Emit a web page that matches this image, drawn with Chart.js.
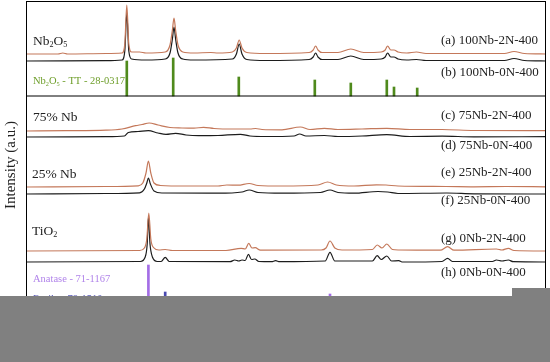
<!DOCTYPE html>
<html>
<head>
<meta charset="utf-8">
<script src="https://cdn.jsdelivr.net/npm/chart.js@4.4.0/dist/chart.umd.min.js"></script>
<style>
  body { margin: 0; background: #fff; }
  #wrap { position: relative; width: 550px; height: 362px; }
  canvas { display: block; }
  .mask { position: absolute; background: #808080; }
</style>
</head>
<body>
<div id="wrap">
  <canvas id="xrd" width="550" height="362"></canvas>
  <div class="mask" style="left:0;top:296px;width:550px;height:66px"></div>
  <div class="mask" style="left:512px;top:288px;width:38px;height:8px"></div>
</div>
<script>
// samples, top to bottom (2N = red, 0N = black)
const sampleNames = ['(a) 100Nb-2N-400', '(b) 100Nb-0N-400', '(c) 75Nb-2N-400', '(d) 75Nb-0N-400',
                     '(e) 25Nb-2N-400', '(f) 25Nb-0N-400', '(g) 0Nb-2N-400', '(h) 0Nb-0N-400'];
// vertical offset of each pattern (a.u.)
const baselines = [275, 268, 198, 192, 142, 135, 78, 67];
const panelSplit = 233; // line between Nb2O5 panel and the rest

// (a) 100Nb-2N-400
const thetaA = [10, 14, 14.6, 15.2, 20, 22.0, 22.35, 22.6, 22.85, 23.2, 24.2, 25, 27.4, 28.0, 28.3, 28.5, 28.7, 29.0, 29.6, 31,
                33.1, 34, 35.8, 36.3, 36.65, 37.0, 37.6, 40, 45.4, 45.9, 46.2, 46.5, 47.0, 49.0, 50.6, 52.2, 54.4, 54.9,
                55.2, 55.6, 56.0, 56.5, 57.6, 58.8, 60, 69.8, 71.0, 72.3, 75];
const intA = [0, 0, 1, 0, 0.5, 1, 10, 49, 10, 2, 2, 1, 2, 9, 24, 36, 24, 9, 2, 1,
              1.5, 1, 2, 6, 14, 6, 1.5, 0.5, 1.5, 4, 8, 4, 1.5, 1.5, 5, 1.5, 2, 4,
              8, 4, 4, 2, 1, 2, 0.5, 0.5, 2.5, 0.5, 0];
// (b) 100Nb-0N-400
const thetaB = [10, 20, 22.0, 22.35, 22.6, 22.85, 23.2, 25, 27.4, 28.0, 28.3, 28.5, 28.7, 29.0, 29.6, 31,
                35.8, 36.3, 36.65, 37.0, 37.6, 40, 45.4, 45.9, 46.2, 46.5, 47.0, 49.0, 50.6, 52.2, 54.4, 54.9,
                55.2, 55.6, 56.0, 56.5, 57.6, 58.8, 60, 69.8, 71.0, 72.3, 75];
const intB = [0, 0.3, 1, 10, 48, 10, 2, 1, 2, 8, 22, 34, 22, 8, 2, 1,
              2, 7, 17, 7, 1.5, 0.5, 1.5, 4, 8, 4, 1.5, 1.5, 5, 1.5, 2, 4,
              8, 4, 4, 2, 1, 1.5, 0.5, 0.5, 2.5, 0.5, 0];
// (c) 75Nb-2N-400
const thetaC = [10, 15, 20, 22, 23.7, 24.5, 25.4, 26.5, 28, 29.5, 31, 32.2, 33.5, 36, 38, 38.7, 39.5, 42, 44.3, 45.5,
                47.3, 49, 52, 55.1, 58, 62, 66, 75];
const intC = [0, 0.3, 0.8, 2, 5.3, 6.5, 8, 6, 3.5, 3, 2.8, 3.7, 2.5, 2, 2, 2.5, 1.5, 1.2, 4, 1.5,
              2.7, 1.5, 2, 2.7, 1.5, 1.5, 0.5, 0.3];
// (d) 75Nb-0N-400
const thetaD = [10, 20, 22.3, 22.8, 24, 25.3, 26.5, 27.5, 28.7, 30, 31.6, 34, 36.8, 38, 40, 43.5, 44.2, 45, 47.3, 49,
                52, 55.1, 58, 62, 66, 75];
const intD = [0, 0.3, 1, 4.5, 5.5, 6.3, 4, 2.7, 3.7, 2, 1.3, 1.5, 2.7, 1, 0.5, 1, 3, 1, 1.5, 0.5,
              1, 2.3, 0.5, 0.8, 0.2, 0.3];
// (e) 25Nb-2N-400
const thetaE = [10, 20, 24.0, 24.6, 25.0, 25.3, 25.6, 26.0, 26.8, 30, 34, 35.1, 36.5, 37.9, 39, 42, 46.5, 47.7, 48.8, 51,
                53.8, 55, 56.5, 62.5, 66, 70, 75];
const intE = [0, 0.5, 1.2, 4, 14, 26, 14, 4, 1.5, 1, 1, 2, 1.8, 3.5, 1.5, 1, 2, 5, 2, 1,
              2.2, 2, 1, 0.5, 0.2, 0.5, 0.2];
// (f) 25Nb-0N-400
const thetaF = [10, 20, 24.2, 24.8, 25.1, 25.3, 25.55, 26.0, 27, 34, 37.0, 37.9, 39, 42, 46.8, 48.0, 49, 51,
                54, 55.2, 56.5, 62.6, 66, 75];
const intF = [0, 0.5, 1.2, 5, 11, 16, 10, 3, 1, 0.8, 2, 4, 1.5, 0.8, 1.5, 4, 1.5, 0.8,
              2.5, 2, 0.5, 1, 0.2, 0];
// (g) 0Nb-2N-400
const thetaG = [10, 24.2, 24.8, 25.1, 25.35, 25.6, 26.0, 26.6, 27.4, 28.3, 35, 36.9, 37.4, 37.85, 38.25, 38.65, 39.3,
                46.9, 47.5, 48.0, 48.6, 49.5, 53.3, 53.9, 54.5, 55.1, 55.8, 56.6, 61.8, 62.7, 63.5, 68.8, 69.5,
                70.3, 71, 75];
const intG = [0, 0.5, 3, 12, 38, 12, 3, 1, 1.5, 0.5, 0.5, 2.7, 2, 7.7, 3, 3.3, 0.8,
              1, 3, 10, 3, 1, 1.5, 6, 3, 7, 1.5, 1, 0.8, 4.3, 0.8, 2, 1,
              2.7, 0.5, 0];
// (h) 0Nb-0N-400
const thetaH = [10, 24.3, 24.9, 25.15, 25.3, 25.5, 25.8, 26.4, 26.9, 27.4, 27.9, 35.5, 36.1, 36.6, 37.0, 37.4, 37.8,
                38.2, 38.6, 39.1, 40.7, 41.2, 41.7, 47.4, 48.0, 48.6, 53.3, 53.9, 54.4, 55.1, 55.7, 56.6, 57.0,
                62.0, 62.7, 63.3, 68.3, 68.8, 69.5, 70.3, 70.9, 75];
const intH = [0, 0.5, 5, 18, 45, 18, 5, 0.5, 0.5, 4.7, 0.5, 0.3, 2, 1, 2, 1.5, 7.7,
              2.5, 3, 0.5, 0.3, 1.3, 0.3, 1, 9.7, 1, 1, 6.3, 2.5, 6, 1, 1.3, 0,
              0.5, 3.7, 0.5, 0.5, 2, 1, 2, 0.3, 0];

const sampleTheta = [thetaA, thetaB, thetaC, thetaD, thetaE, thetaF, thetaG, thetaH];
const sampleInt = [intA, intB, intC, intD, intE, intF, intG, intH];

// reference patterns (stick heights)
const ttTheta = [22.6, 28.4, 36.6, 46.1, 50.6, 55.1, 56.0, 58.9];
const ttInt = [35, 38, 19, 16, 13, 16, 9, 8];
const anataseTheta = [25.3, 37.8, 48.0, 53.9, 55.1, 62.7, 68.8, 70.3];
const anataseInt = [64, 13, 35, 13, 12, 9, 4, 5];
const rutileTheta = [27.4, 36.1, 41.2, 54.3, 56.6, 69.0];
const rutileInt = [37, 18, 8, 22, 7, 5];

const serif = '"Liberation Serif", "Times New Roman", serif';
const red = '#c4785a';
const black = '#1c1c1c';

const datasets = [];
sampleTheta.forEach((th, i) => {
    const is2N = i % 2 === 0;
    datasets.push({
        type: 'line',
        label: sampleNames[i],
        data: th.map((t, k) => ({ x: t, y: baselines[i] + sampleInt[i][k] })),
        borderColor: is2N ? red : black,
        borderWidth: 1.2,
        pointRadius: 0,
        cubicInterpolationMode: 'monotone',
        order: is2N ? 1 : 2
    });
});

datasets.push({
    type: 'line',
    label: 'split',
    data: [{ x: 10, y: panelSplit }, { x: 75, y: panelSplit }],
    borderColor: '#000',
    borderWidth: 1,
    pointRadius: 0,
    order: 3
});

function sticks(label, th, hts, base, color) {
    return {
        type: 'bar',
        label: label,
        data: th.map((t, k) => ({ x: t, y: [base, base + hts[k]] })),
        backgroundColor: color,
        barThickness: 2,
        grouped: false,
        order: 4
    };
}
datasets.push(sticks('Nb2O5 TT', ttTheta, ttInt, panelSplit, '#4f8a1c'));
datasets.push(sticks('Anatase', anataseTheta, anataseInt, 0, '#a46ee6'));
datasets.push(sticks('Rutile', rutileTheta, rutileInt, 0, '#4a4ab0'));

function drawFormula(ctx, parts, x, y, size) {
    parts.forEach(([txt, sub]) => {
        ctx.font = (sub ? size * 0.6 : size) + 'px ' + serif;
        ctx.fillText(txt, x, sub ? y + size * 0.32 : y);
        x += ctx.measureText(txt).width;
    });
    return x;
}

const labelPlugin = {
    id: 'labels',
    afterDatasetsDraw(chart) {
        const ctx = chart.ctx;
        const a = chart.chartArea;
        ctx.save();

        // plot frame
        ctx.strokeStyle = '#000';
        ctx.lineWidth = 1;
        ctx.strokeRect(Math.round(a.left) + 0.5, Math.round(a.top) + 0.5,
                       Math.round(a.right - a.left) - 1, Math.round(a.bottom - a.top));

        ctx.textBaseline = 'middle';
        ctx.textAlign = 'left';

        // sample names on the right
        const rightY = [41, 73, 116, 146, 173, 201, 239, 273];
        ctx.fillStyle = '#222';
        ctx.font = '13px ' + serif;
        sampleNames.forEach((n, i) => ctx.fillText(n, 441, rightY[i]));

        // compositions on the left
        drawFormula(ctx, [['Nb', false], ['2', true], ['O', false], ['5', true]], 33, 41, 13.5);
        ctx.font = '13.5px ' + serif;
        ctx.fillText('75% Nb', 33, 117);
        ctx.fillText('25% Nb', 32, 174);
        drawFormula(ctx, [['TiO', false], ['2', true]], 32, 231, 13.5);

        // reference cards
        ctx.fillStyle = '#6e9e2a';
        let x = drawFormula(ctx, [['Nb', false], ['2', true], ['O', false], ['5', true]], 33, 81, 10.5);
        ctx.font = '10.5px ' + serif;
        ctx.fillText(' - TT - 28-0317', x, 81);
        ctx.fillStyle = '#b184ea';
        ctx.fillText('Anatase - 71-1167', 33, 279);
        ctx.fillStyle = '#5a5ab8';
        ctx.fillText('Rutile - 78-1510', 33, 299);

        // axis title
        ctx.translate(11, 165);
        ctx.rotate(-Math.PI / 2);
        ctx.textAlign = 'center';
        ctx.fillStyle = '#222';
        ctx.font = '15px ' + serif;
        ctx.fillText('Intensity (a.u.)', 0, 0);
        ctx.restore();
    }
};

const hidden = {
    display: true,
    offset: false,
    grid: { display: false, drawTicks: false, offset: false },
    ticks: { display: false },
    border: { display: false }
};

new Chart(document.getElementById('xrd').getContext('2d'), {
    data: { datasets: datasets },
    options: {
        responsive: false,
        animation: false,
        layout: { autoPadding: false, padding: { left: 26, right: 4, top: 1, bottom: 33 } },
        plugins: {
            legend: { display: false },
            tooltip: { enabled: false },
            title: { display: false }
        },
        scales: {
            x: { type: 'linear', min: 10, max: 75, ...hidden },
            y: { type: 'linear', min: 0, max: 328, ...hidden }
        }
    },
    plugins: [labelPlugin]
});
</script>
</body>
</html>
